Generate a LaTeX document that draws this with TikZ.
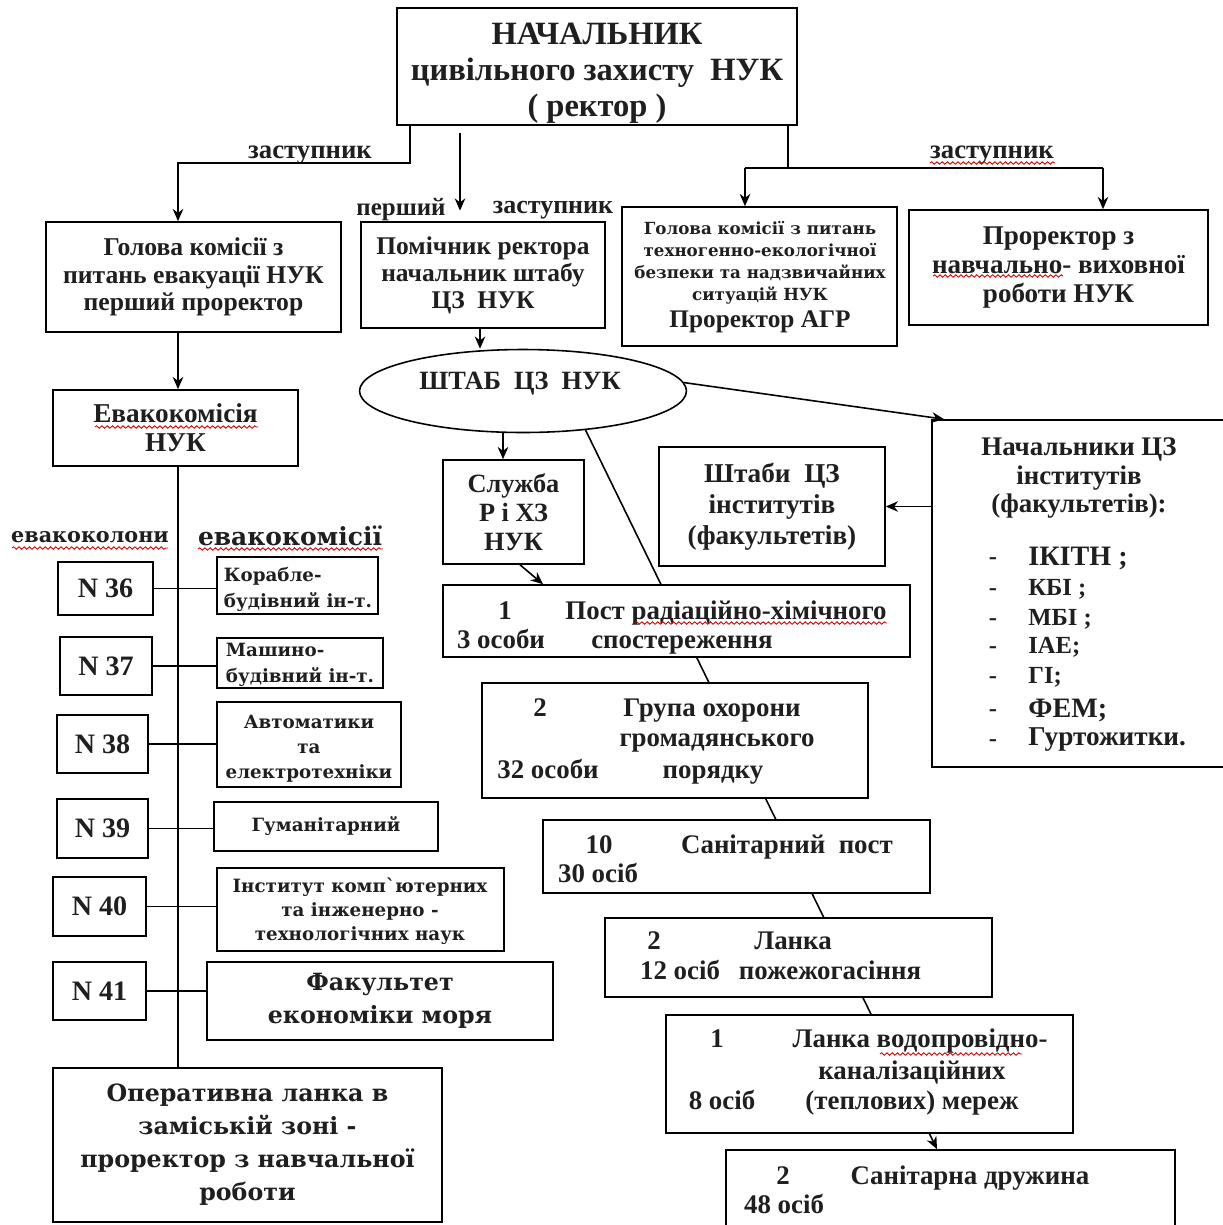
\documentclass[tikz,border=0pt]{standalone}
\usepackage{fontspec}
\setmainfont{Liberation Serif}
\newfontfamily\wide{DejaVu Serif}
\usetikzlibrary{arrows.meta,shapes.geometric,decorations.pathmorphing,calc}
\pgfdeclarelayer{bg}
\pgfsetlayers{bg,main}
\newcommand\mkbox[7][]{\node[box,minimum width={(#5-#3)*0.02cm},minimum height={(#6-#4)*0.02cm},#1] (#2) at ({(#3+#5)/2},{(#4+#6)/2}) {#7};}
\begin{document}
\begin{tikzpicture}[x=0.02cm,y=-0.02cm,
  every node/.style={font=\bfseries, text=black!88},
  box/.style={draw,line width=0.9pt,fill=white,inner sep=0pt,align=center},
  ln/.style={line width=0.9pt},
  arr/.style={line width=0.9pt,-{Stealth[length=7pt,width=6pt]}},
  sq/.style={red!85!black,line width=0.5pt,decorate,decoration={snake,amplitude=0.7pt,segment length=3pt}},
  fs/.style 2 args={font=\fontsize{#1}{#2}\selectfont\bfseries},
  ws/.style 2 args={font=\wide\fontsize{#1}{#2}\selectfont\bfseries},
  tx/.style={inner sep=0pt},
  mt/.style={tx,fs={15.3}{17},anchor=base}
]
\useasboundingbox (0,0) rectangle (1223,1225);

% ---------- top ----------
\mkbox{top}{397}{8}{797}{125}{}
\node[tx,fs={18.5}{20.5},align=center] (topt) at (597,73) {НАЧАЛЬНИК\\цивільного захисту~~НУК\\( ректор )};

\mkbox[fs={14.6}{15.6}]{gol}{46}{222}{341}{332}{Голова комісії з\\питань евакуації НУК\\перший проректор}
\mkbox[fs={14.5}{15.4}]{pom}{361}{222}{605}{328}{Помічник ректора\\начальник штабу\\ЦЗ~~НУК}
\mkbox{agr}{622}{207}{897}{346}{}
\node[tx,ws={9.5}{12.5},align=center] (agrt) at (760,263) {Голова комісії з питань\\техногенно-екологічної\\безпеки та надзвичайних\\ситуацій НУК};
\node[tx,fs={14.4}{16}] (agrp) at (760,322) {Проректор АГР};
\mkbox[fs={15.4}{16.5}]{pro}{909}{210}{1208}{325}{Проректор з\\навчально- виховної\\роботи НУК}

\node[tx,fs={15.2}{16}] (lz) at (310,155) {заступник};
\node[tx,fs={15.2}{16}] (rz) at (992,155) {заступник};
\node[tx,fs={14.2}{16}] (pe) at (401,210) {перший};
\node[tx,fs={14.8}{16}] (mz) at (553,210) {заступник};

\coordinate (lj) at (178,163);
\draw[arr] (top.south -| 410,0) |- (lj) -- (lj |- gol.north);
\draw[arr,shorten <=4pt,shorten >=6pt] (top.south -| 460,0) -- (pom.north -| 460,0);
\coordinate (rj) at (788,168);
\coordinate (ra) at (745,168);
\coordinate (rb) at (1103,168);
\draw[ln] (top.south -| rj) -- (rj);
\draw[ln] (ra) -- (rb);
\draw[arr] (ra) -- (ra |- agr.north);
\draw[arr] (rb) -- (rb |- pro.north);

% ---------- shtab ----------
\node[draw,ellipse,line width=0.9pt,fill=white,minimum width=6.54cm,minimum height=1.66cm,inner sep=0pt] (sht) at (523,391) {};
\node[tx,fs={15}{16}] (shtt) at (520,384) {ШТАБ~~ЦЗ~~НУК};
\draw[arr] (pom.south -| 480,0) -- (sht.north -| 480,0);

% ---------- left column ----------
\mkbox[fs={15.5}{16.5}]{evak}{53}{390}{298}{466}{Евакокомісія\\НУК}
\draw[arr] (gol.south -| 178,0) -- (evak.north -| 178,0);
\mkbox[ws={13.5}{18.8}]{oper}{53}{1068}{442}{1222}{Оперативна ланка в\\заміській зоні -\\проректор з навчальної\\роботи}
\draw[ln] (evak.south -| 178,0) -- (oper.north -| 178,0);

\node[tx,ws={11.8}{14}] (lk) at (90,537) {евакоколони};
\node[tx,ws={14.2}{15}] (lm) at (290,536) {евакокомісії};

\mkbox[fs={16}{16}]{n36}{58}{562}{153}{615}{N 36}
\mkbox[fs={16}{16}]{n37}{60}{637}{152}{695}{N 37}
\mkbox[fs={16}{16}]{n38}{57}{715}{148}{773}{N 38}
\mkbox[fs={16}{16}]{n39}{57}{799}{148}{858}{N 39}
\mkbox[fs={16}{16}]{n40}{53}{877}{146}{936}{N 40}
\mkbox[fs={16}{16}]{n41}{53}{962}{146}{1020}{N 41}

\mkbox{k36}{217}{557}{378}{614}{}
\node[tx,ws={10.4}{14.8},align=left] (k36t) at (298,589) {Корабле-\\будівний ін-т.};
\mkbox{k37}{217}{638}{383}{688}{}
\node[tx,ws={10.4}{14.8},align=left] (k37t) at (300,665) {Машино-\\будівний ін-т.};
\mkbox{k38}{217}{702}{401}{787}{}
\node[tx,ws={10.4}{14.2},align=center] (k38t) at (309,749) {Автоматики\\та\\електротехніки};
\mkbox[ws={10.4}{14}]{k39}{214}{802}{438}{851}{Гуманітарний}
\mkbox{k40}{217}{868}{504}{951}{}
\node[tx,ws={10.4}{13.7},align=center] (k40t) at (360,911) {Інститут комп`ютерних\\та інженерно -\\технологічних наук};
\mkbox[ws={13.5}{18.8}]{k41}{207}{962}{553}{1040}{Факультет\\економіки моря}

\foreach \n in {36,37,38,39,40,41}
  \draw[ln] (n\n.east) -- (n\n.east -| k\n.west);

% ---------- middle column ----------
\mkbox[fs={15}{16.5}]{slu}{443}{460}{584}{564}{Служба\\Р і ХЗ\\НУК}
\draw[arr] (sht.south -| 503,0) -- (slu.north -| 503,0);

\mkbox{post}{443}{585}{910}{657}{}
\node[mt] (p1) at (505,619) {1};
\node[mt] (p2) at (726,619) {Пост радіаційно-хімічного};
\node[mt] (p3) at (501,648) {3 особи};
\node[mt] (p4) at (682,648) {спостереження};
\draw[arr] (slu.south -| 520,0) -- (post.north -| 543,0);

\mkbox{grp}{482}{683}{868}{798}{}
\node[mt] (g1) at (540,716) {2};
\node[mt] (g2) at (712,716) {Група охорони};
\node[mt] (g3) at (717,746) {громадянського};
\node[mt] (g4) at (548,778) {32 особи};
\node[mt] (g5) at (713,778) {порядку};

\mkbox{san}{543}{820}{930}{893}{}
\node[mt] (s1) at (599,853) {10};
\node[mt] (s2) at (787,853) {Санітарний~~пост};
\node[mt] (s3) at (598,882) {30 осіб};

\mkbox{lan}{605}{918}{992}{997}{}
\node[mt] (l1) at (654,949) {2};
\node[mt] (l2) at (793,949) {Ланка};
\node[mt] (l3) at (680,979) {12 осіб};
\node[mt] (l4) at (830,979) {пожежогасіння};

\mkbox{vod}{666}{1015}{1073}{1133}{}
\node[mt] (v1) at (717,1047) {1};
\node[mt] (v2) at (920,1047) {Ланка водопровідно-};
\node[mt] (v3) at (912,1079) {каналізаційних};
\node[mt] (v4) at (722,1109) {8 осіб};
\node[mt] (v5) at (912,1109) {(теплових) мереж};

\mkbox{dru}{726}{1150}{1175}{1245}{}
\node[mt] (d1) at (783,1184) {2};
\node[mt] (d2) at (970,1184) {Санітарна дружина};
\node[mt] (d3) at (784,1213) {48 осіб};

% ---------- right ----------
\mkbox[fs={15.5}{17.6}]{sb}{659}{447}{885}{566}{Штаби~~ЦЗ\\інститутів\\(факультетів)}
\mkbox{nach}{932}{420}{1240}{767}{}
\node[tx,fs={15.3}{16.2},align=center] (nh) at (1079,478) {Начальники ЦЗ\\інститутів\\(факультетів):};
\foreach \y/\t/\s [count=\i] in {558/ІКІТН ;/16, 589/КБІ ;/14, 619/МБІ ;/14, 647/ІАЕ;/14, 677/ГІ;/14, 710/ФЕМ;/16, 740/Гуртожитки./15.5}{
  \node[tx,fs={14}{16}] (dash\i) at (993,\y+3) {-};
  \node[tx,fs={\s}{16},anchor=west] (it\i) at (1028,\y) {\t};
}
\draw[arr] (sht.3) -- ($(nach.north west)+(13,0)$);
\draw[arr] (nach.west |- sb.east) -- (sb.east);

% ---------- diagonal chain (behind boxes) ----------
\begin{pgfonlayer}{bg}
\draw[arr] (sht.-32) -- (dru.north -| 937,0);
\end{pgfonlayer}

% ---------- spell-check squiggles ----------
\draw[sq] (95,427) -- (258,427);
\draw[sq] (12,548) -- (168,548);
\draw[sq] (198,549) -- (383,549);
\draw[sq] (930,163) -- (1055,163);
\draw[sq] (933,276) -- (1063,276);
\draw[sq] (635,623) -- (887,623);
\draw[sq] (880,1054) -- (1022,1054);
\end{tikzpicture}
\end{document}
